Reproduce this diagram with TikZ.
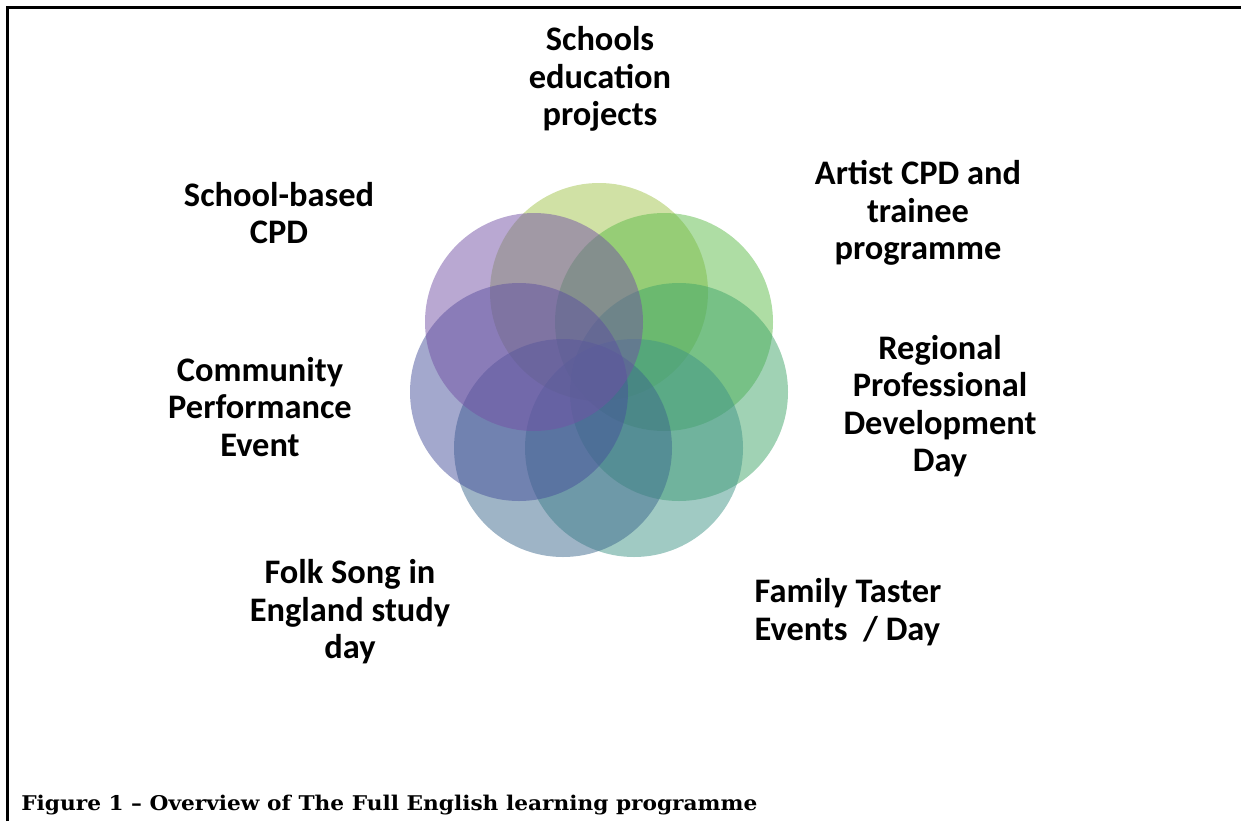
\documentclass[tikz,border=0pt]{standalone}
\usepackage{fontspec}
\usepackage{graphicx}
\setmainfont{Carlito}
\newfontfamily\capfont{DejaVu Serif}
\begin{document}
\begin{tikzpicture}[x=0.75pt,y=-0.75pt,
  petal/.style={circle,minimum size=163.5pt,inner sep=0pt,fill opacity=0.5,draw=none},
  lbl/.style={align=center,inner sep=0pt,font=\fontsize{25.8}{28.1}\selectfont\bfseries},
  caption/.style={inner sep=0pt,anchor=base west,font=\capfont\fontsize{15.2}{18}\selectfont\bfseries}]
\definecolor{cA}{RGB}{161,195,75}
\definecolor{cB}{RGB}{93,187,73}
\definecolor{cC}{RGB}{65,165,105}
\definecolor{cD}{RGB}{65,149,135}
\definecolor{cE}{RGB}{61,105,141}
\definecolor{cF}{RGB}{71,81,155}
\definecolor{cG}{RGB}{115,81,165}
\useasboundingbox (0,0) rectangle (1241,821);
% frame (top and left edges)
\coordinate (fbl) at (7.5,821);
\coordinate (ftl) at (7.5,7.5);
\coordinate (ftr) at (1241,7.5);
\draw[line width=1.9pt] (fbl) -- (ftl) -- (ftr);
% overlapping circles, drawn clockwise from the top
\node[petal,fill=cA] (p1) at (599,292) {};
\node[petal,fill=cB] (p2) at (664,322) {};
\node[petal,fill=cC] (p3) at (679,392) {};
\node[petal,fill=cD] (p4) at (634,448) {};
\node[petal,fill=cE] (p5) at (563,448) {};
\node[petal,fill=cF] (p6) at (519,392) {};
\node[petal,fill=cG] (p7) at (534,322) {};
% labels
\node[lbl] (l1) at (600,79) {Schools\\education\\projects};
\node[lbl] (l2) at (918,213) {Artist CPD and\\trainee\\programme};
\node[lbl] (l3) at (279,213) {School-based\\CPD};
\node[lbl] (l4) at (940,406) {Regional\\Professional\\Development\\Day};
\node[lbl] (l5) at (260,407) {Community\\Performance\\Event};
\node[lbl] (l6) at (350,612) {Folk Song in\\England study\\day};
\node[lbl,align=left] (l7) at (848,612) {Family Taster\\Events~ / Day};
% caption
\node[caption] (cap) at (21,810) {\scalebox{1.07}[1]{Figure 1 – Overview of The Full English learning programme}};
\end{tikzpicture}
\end{document}
